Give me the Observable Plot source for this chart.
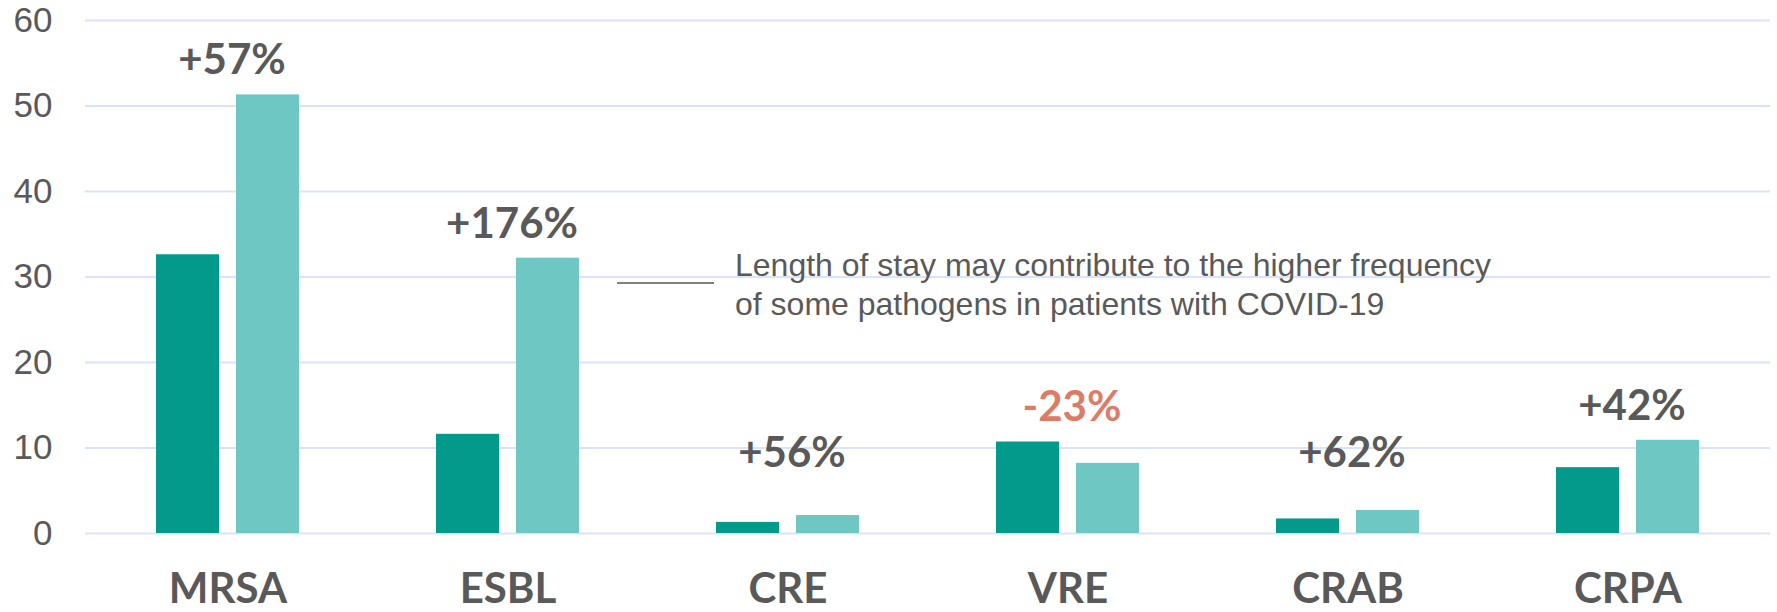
<!DOCTYPE html>
<html>
<head>
<meta charset="utf-8">
<script src="https://cdn.jsdelivr.net/npm/d3@7"></script>
<script src="https://cdn.jsdelivr.net/npm/@observablehq/plot@0.6"></script>
<style>
  html, body { margin: 0; padding: 0; background: #fff; }
  #chart { width: 1777px; height: 612px; overflow: hidden; }
</style>
</head>
<body>
<div id="chart"></div>
<script>
// ---- data ----
const categories = ["MRSA", "ESBL", "CRE", "VRE", "CRAB", "CRPA"];
const beforeValues = [32.6, 11.6, 1.3, 10.7, 1.7, 7.7];   // dark teal
const duringValues = [51.3, 32.2, 2.1, 8.2, 2.7, 10.9];   // light teal
const changeLabels = ["+57%", "+176%", "+56%", "-23%", "+62%", "+42%"];
const yTicks = [0, 10, 20, 30, 40, 50, 60];
const noteText = "Length of stay may contribute to the higher frequency\nof some pathogens in patients with COVID\u201119";
const noteAnchor = {category: "CRE", y: 29.3};

// ---- derived tables ----
const before = categories.map((c, i) => ({category: c, value: beforeValues[i]}));
const during = categories.map((c, i) => ({category: c, value: duringValues[i]}));
const labels = categories.map((c, i) => ({
  category: c,
  label: changeLabels[i],
  top: Math.max(beforeValues[i], duringValues[i], 5.4),
  negative: changeLabels[i].startsWith("-")
}));

const grey = "#595959";
const boldFont = "Lato, 'Open Sans', sans-serif";

const chart = Plot.plot({
  width: 1777,
  height: 612,
  marginTop: 20,
  marginBottom: 79,
  marginLeft: 85,
  marginRight: 7,
  style: {background: "#fff", overflow: "visible"},
  x: {domain: categories, paddingInner: 0.49, paddingOuter: 0.245, axis: null},
  y: {domain: [0, 60], axis: null},
  marks: [
    Plot.gridY(yTicks, {stroke: "#d9e4fa", strokeOpacity: 1, strokeWidth: 2}),
    Plot.axisY(yTicks, {
      tickSize: 0, tickPadding: 33, fontSize: 35, label: null,
      fontFamily: "'Liberation Sans', Arial, sans-serif", fill: grey
    }),
    Plot.axisX({
      tickSize: 0, tickPadding: 40, fontSize: 42, fontWeight: 700, label: null,
      fontFamily: boldFont, fill: grey
    }),
    Plot.barY(before, {x: "category", y: "value", fill: "#03998b", insetRight: 80}),
    Plot.barY(during, {x: "category", y: "value", fill: "#6fc7c3", insetLeft: 80}),
    Plot.text(labels, {
      x: "category", y: "top", text: "label", dx: 4, dy: -34,
      lineAnchor: "middle", textAnchor: "middle",
      fontSize: 42, fontWeight: 700, fontFamily: boldFont,
      fill: d => d.negative ? "#de7b66" : grey
    }),
    Plot.tickY([noteAnchor], {
      x: "category", y: "y", dx: -99, insetRight: 46,
      stroke: "#808080", strokeWidth: 2
    }),
    Plot.text([noteAnchor], {
      x: "category", y: "y", text: () => noteText, dx: -53,
      textAnchor: "start", lineAnchor: "middle", lineHeight: 1.21,
      fontSize: 32, fontFamily: "'Liberation Sans', Arial, sans-serif", fill: grey
    })
  ]
});

document.getElementById("chart").appendChild(chart);
</script>
</body>
</html>
